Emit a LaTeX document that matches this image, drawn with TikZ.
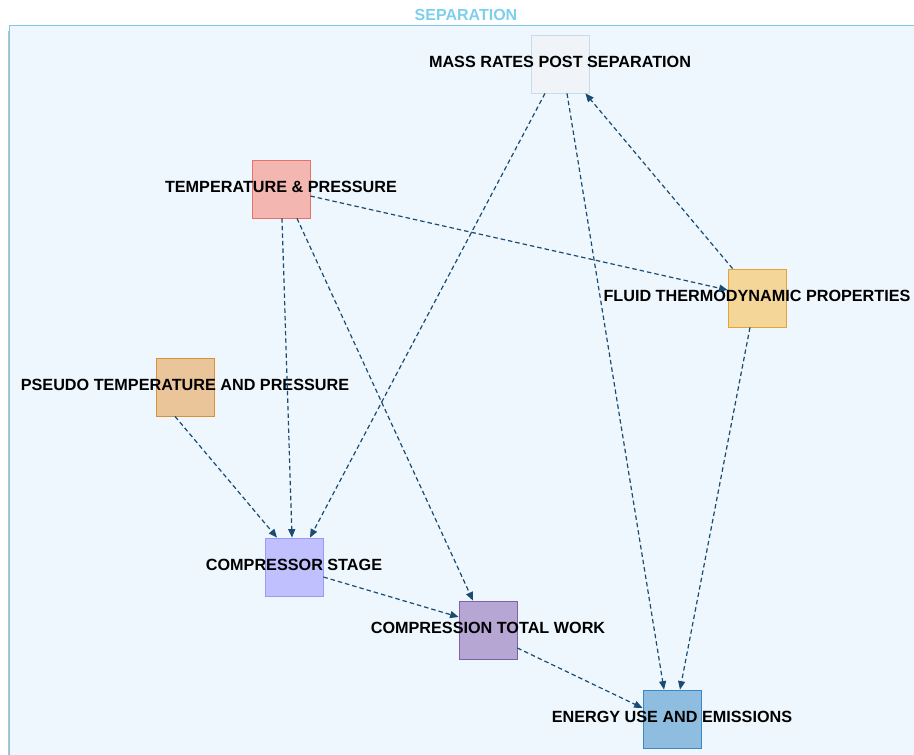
\documentclass[tikz,border=0pt]{standalone}
\usepackage{fontspec}
\setmainfont{Liberation Sans}
\usetikzlibrary{arrows.meta}
\definecolor{framefill}{HTML}{EEF7FD}
\definecolor{frameline}{HTML}{7EC8E3}
\definecolor{titlecol}{HTML}{7DCFEE}
\definecolor{edgecol}{HTML}{1B4A72}
\definecolor{massfill}{HTML}{F0F4F8}\definecolor{massline}{HTML}{C8DCE8}
\definecolor{tpfill}{HTML}{F4B6B0}\definecolor{tpline}{HTML}{E57368}
\definecolor{fluidfill}{HTML}{F5D699}\definecolor{fluidline}{HTML}{E3A33A}
\definecolor{pseudofill}{HTML}{EBC59A}\definecolor{pseudoline}{HTML}{D9903A}
\definecolor{compfill}{HTML}{C0C0FF}\definecolor{compline}{HTML}{9A9AF0}
\definecolor{workfill}{HTML}{B6A6D4}\definecolor{workline}{HTML}{7E5FB0}
\definecolor{energyfill}{HTML}{8FBDE0}\definecolor{energyline}{HTML}{3A86C8}
\tikzset{
  stagebox/.style={draw, line width=0.8pt, minimum width=58pt, minimum height=58pt,
    inner sep=0pt, label={[font=\bfseries\fontsize{16.2}{18}\selectfont, text=black, yshift=2pt]center:#1}},
  flow/.style={draw=edgecol, line width=1.2pt, dash pattern=on 4.5pt off 3pt,
    -{Stealth[length=8.5pt,width=7pt,inset=0pt]}},
}
\begin{document}
\begin{tikzpicture}[x=1pt,y=-1pt]
\useasboundingbox (0,0) rectangle (914,755);
% group frame
\fill[framefill] (9,25) rectangle (916,757);
\draw[gray!50, line width=1pt] (8,31) -- (8,757);
\draw[frameline, line width=1pt] (9,757) -- (9,25) -- (916,25);
\node[font=\bfseries\fontsize{16}{18}\selectfont, text=titlecol] (title) at (466,15) {SEPARATION};

% stages
\node[stagebox={MASS RATES POST SEPARATION}, fill=massfill, draw=massline] (mass) at (560,64) {};
\node[stagebox={TEMPERATURE \& PRESSURE}, fill=tpfill, draw=tpline] (tp) at (281,189) {};
\node[stagebox={FLUID THERMODYNAMIC PROPERTIES}, fill=fluidfill, draw=fluidline] (fluid) at (757,298) {};
\node[stagebox={PSEUDO TEMPERATURE AND PRESSURE}, fill=pseudofill, draw=pseudoline] (pseudo) at (185,387) {};
\node[stagebox={COMPRESSOR STAGE}, fill=compfill, draw=compline] (comp) at (294,567) {};
\node[stagebox={COMPRESSION TOTAL WORK}, fill=workfill, draw=workline] (work) at (488,630) {};
\node[stagebox={ENERGY USE AND EMISSIONS}, fill=energyfill, draw=energyline] (energy) at (672,719) {};

% connections
\draw[flow] ([xshift=-15pt]mass.south) -- ([xshift=16pt]comp.north);
\draw[flow] ([xshift=7pt]mass.south) -- ([xshift=-8pt]energy.north);
\draw[flow] ([xshift=5pt]fluid.north west) -- ([xshift=-4pt]mass.south east);
\draw[flow] ([yshift=-7pt]tp.east) -- ([yshift=8pt]fluid.west);
\draw[flow] ([xshift=1pt]tp.south) -- ([xshift=-2pt]comp.north);
\draw[flow] ([xshift=16pt]tp.south) -- ([xshift=-15pt]work.north);
\draw[flow] ([xshift=-7pt]fluid.south) -- ([xshift=8pt]energy.north);
\draw[flow] ([xshift=-10pt]pseudo.south) -- ([xshift=-17pt]comp.north);
\draw[flow] ([yshift=-10pt]comp.east) -- ([yshift=13pt]work.west);
\draw[flow] ([yshift=-18pt]work.east) -- ([yshift=11pt]energy.west);
\end{tikzpicture}
\end{document}
